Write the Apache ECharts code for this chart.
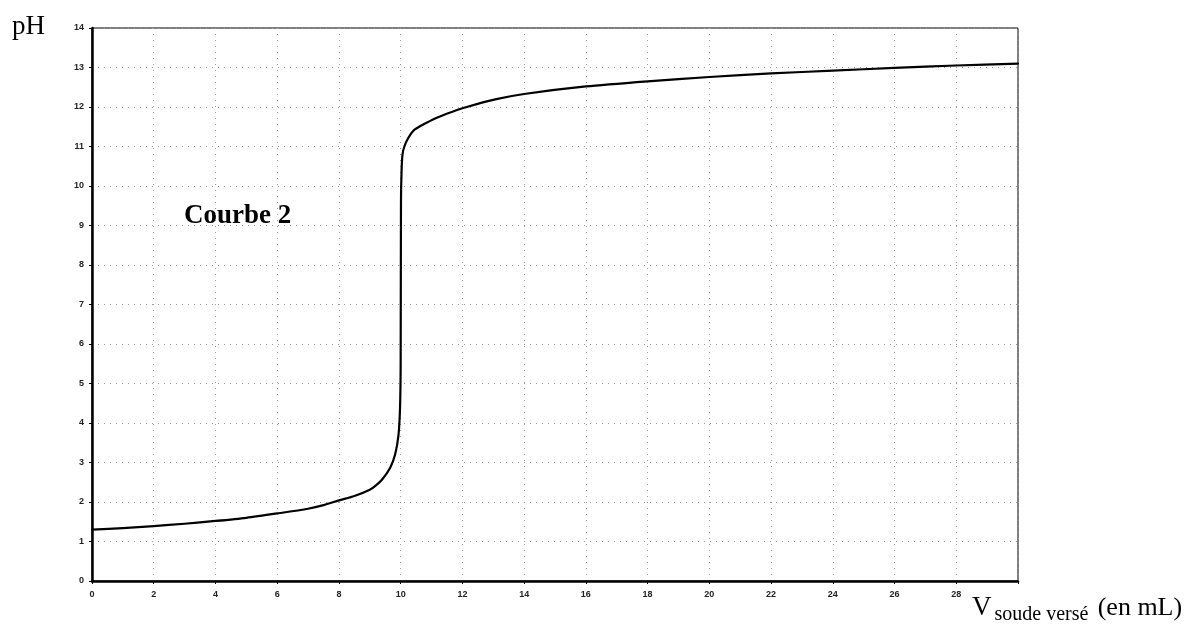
<!DOCTYPE html>
<html>
<head>
<meta charset="utf-8">
<script src="https://cdn.jsdelivr.net/npm/echarts@6/dist/echarts.min.js"></script>
<style>
  html, body { margin: 0; padding: 0; background: #fff; }
  #chart { width: 1195px; height: 633px; }
</style>
</head>
<body>
<div id="chart"></div>
<script>
// volume de soude versé (mL)
var volume = [0, 1, 2, 3, 4, 5, 6, 7, 7.5, 8, 8.5, 9, 9.2, 9.4, 9.66, 9.82, 9.93, 9.98, 10.0, 10.01, 10.03, 10.06, 10.12, 10.25, 10.41, 10.6, 10.84, 11.15, 11.49, 12.14, 13.1, 14, 16, 18, 20, 22, 24, 26, 28, 30]
// pH mesuré
var ph = [1.3, 1.34, 1.39, 1.45, 1.52, 1.6, 1.71, 1.83, 1.92, 2.04, 2.15, 2.31, 2.42, 2.57, 2.87, 3.2, 3.7, 4.4, 5.5, 9.6, 10.4, 10.8, 11.0, 11.22, 11.4, 11.5, 11.6, 11.72, 11.83, 12.0, 12.2, 12.33, 12.52, 12.65, 12.76, 12.85, 12.92, 12.99, 13.05, 13.1]
var xTicks = [0, 2, 4, 6, 8, 10, 12, 14, 16, 18, 20, 22, 24, 26, 28]

var chart = echarts.init(document.getElementById('chart'))
var points = volume.map(function (v, i) { return [v, ph[i]] })

chart.setOption({
  animation: false,
  backgroundColor: '#fff',
  grid: {
    left: 92,
    right: 177,
    top: 28,
    bottom: 52,
    show: true,
    borderColor: '#000',
    borderWidth: 1
  },
  xAxis: {
    type: 'value',
    min: 0,
    max: 30,
    interval: 2,
    axisLine: { onZero: false, lineStyle: { color: '#000', width: 2.5 } },
    axisTick: { show: true, length: 3, lineStyle: { color: '#000' } },
    axisLabel: {
      color: '#222',
      fontSize: 9,
      fontWeight: 'bold',
      fontFamily: 'Arial, Liberation Sans, sans-serif',
      margin: 9,
      formatter: function (v) { return xTicks.indexOf(v) >= 0 ? v : '' }
    },
    splitLine: { show: true, lineStyle: { color: '#999', type: [1, 5], width: 1 } }
  },
  yAxis: {
    type: 'value',
    min: 0,
    max: 14,
    interval: 1,
    axisLine: { show: true, onZero: false, lineStyle: { color: '#000', width: 2.5 } },
    axisTick: { show: true, length: 3, lineStyle: { color: '#000' } },
    axisLabel: {
      color: '#222',
      fontSize: 9,
      fontWeight: 'bold',
      fontFamily: 'Arial, Liberation Sans, sans-serif',
      margin: 8
    },
    splitLine: { show: true, lineStyle: { color: '#999', type: [1, 5], width: 1 } }
  },
  series: [{
    type: 'line',
    data: points,
    symbol: 'none',
    smooth: 0.25,
    lineStyle: { color: '#000', width: 2.2, join: 'round', cap: 'round' }
  }],
  graphic: [
    {
      type: 'text',
      left: 12,
      top: 13,
      style: { text: 'pH', font: '27px "Liberation Serif", "DejaVu Serif", serif', fill: '#000' }
    },
    {
      type: 'text',
      left: 184,
      top: 203,
      style: { text: 'Courbe 2', font: 'bold 27px "Liberation Serif", "DejaVu Serif", serif', fill: '#000' }
    },
    {
      type: 'text',
      left: 972,
      top: 594,
      style: {
        text: '{v|V}{s|soude versé} {n|(en mL)}',
        rich: {
          v: { font: '27px "Liberation Serif", serif', fill: '#000', verticalAlign: 'bottom' },
          s: { font: '20px "Liberation Serif", serif', fill: '#000', verticalAlign: 'bottom', padding: [0, 6, -4, 3] },
          n: { font: '26px "Liberation Serif", serif', fill: '#000', verticalAlign: 'bottom' }
        }
      }
    }
  ]
})
</script>
</body>
</html>
